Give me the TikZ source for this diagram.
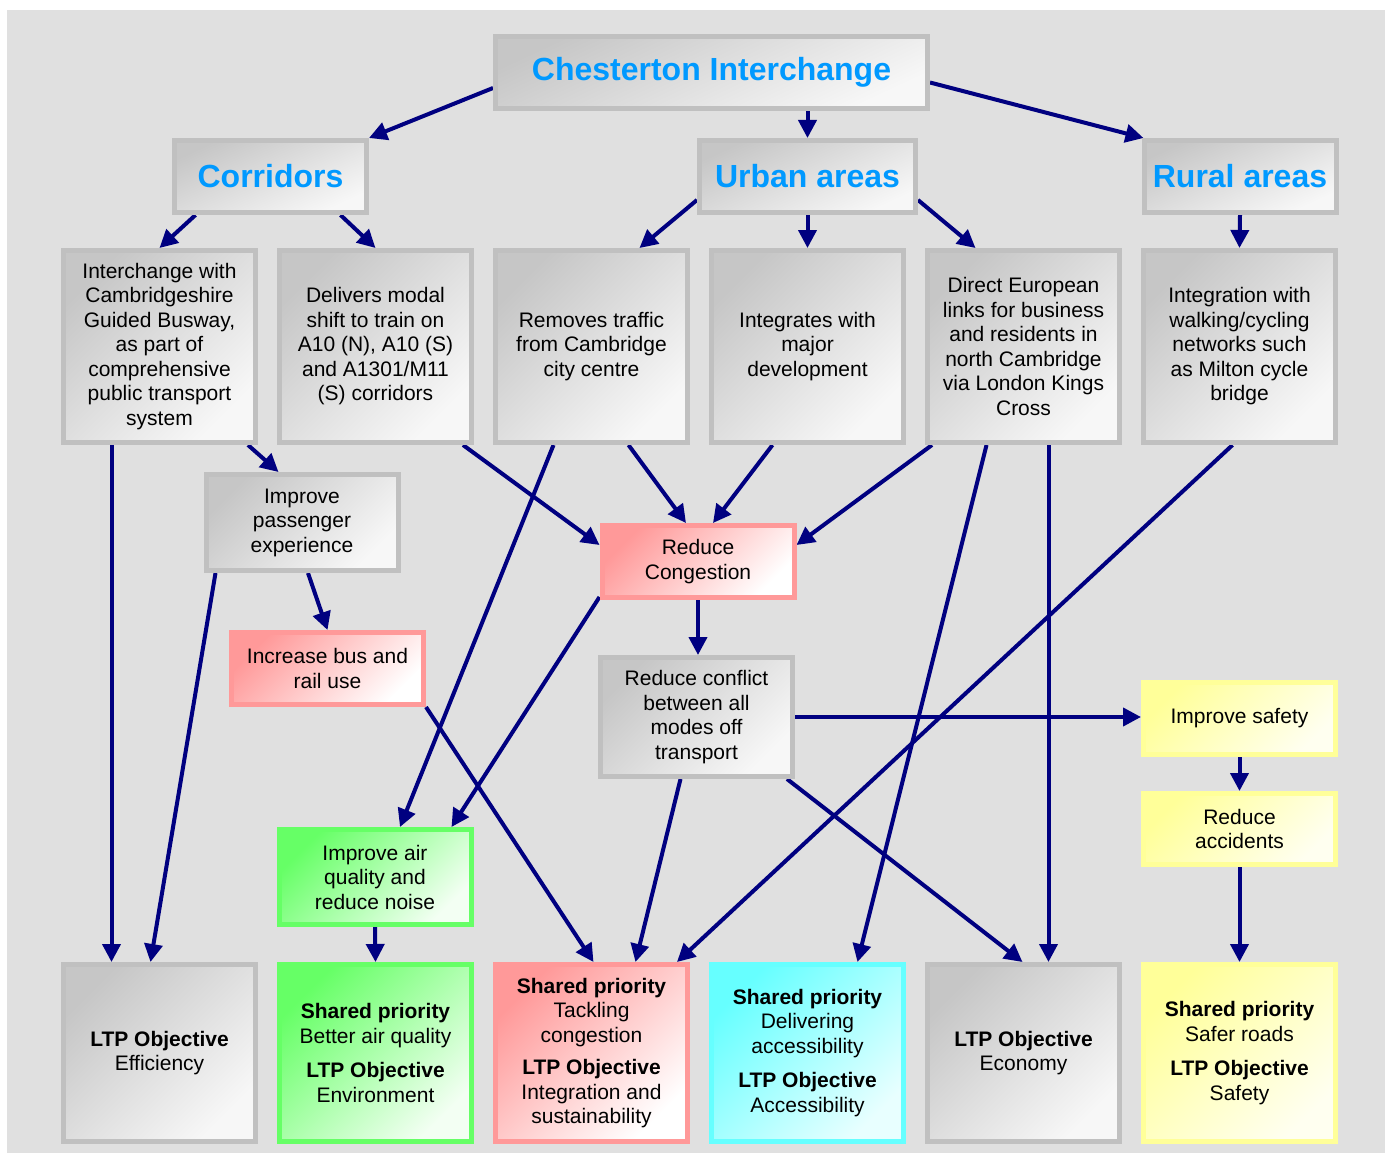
\documentclass[tikz,border=0pt]{standalone}
\usepackage{fontspec}
\setmainfont{Liberation Sans}
\usetikzlibrary{arrows.meta, positioning, backgrounds}
\definecolor{panelgrey}{HTML}{E0E0E0}
\definecolor{rimgrey}{HTML}{C0C0C0}
\definecolor{headblue}{HTML}{0099FF}
\definecolor{linknavy}{HTML}{000080}
\definecolor{rimred}{HTML}{FF9999}
\definecolor{rimgreen}{HTML}{66FF66}
\definecolor{rimcyan}{HTML}{66FFFF}
\definecolor{rimyellow}{HTML}{FFFF99}

\begin{document}
\begin{tikzpicture}[
    x=1pt, y=1pt,
    box/.style={draw, line width=5pt, minimum width=192pt, minimum height=192pt, align=center, inner sep=3pt, font=\fontsize{21}{24.5}\selectfont},
    greybox/.style={box, draw=rimgrey, top color=rimgrey!90!white, bottom color=white!97!black, shading angle=45},
    redbox/.style={box, draw=rimred, top color=rimred, bottom color=white, shading angle=45},
    greenbox/.style={box, draw=rimgreen, top color=rimgreen, bottom color=rimgreen!8!white, shading angle=45},
    cyanbox/.style={box, draw=rimcyan, top color=rimcyan, bottom color=rimcyan!15!white, shading angle=45},
    yellowbox/.style={box, draw=rimyellow, top color=rimyellow, bottom color=rimyellow!15!white, shading angle=45},
    hdr/.style={greybox, minimum height=72pt, shading angle=25, text=headblue, font=\fontsize{32}{38}\selectfont\bfseries},
    link/.style={draw=linknavy, line width=4pt, -{Triangle[length=18pt, width=18pt]}}
]
    \useasboundingbox (0,0) rectangle (1385,-1153);

    % Titel und Bereiche
    \node[hdr, minimum width=432pt] (chest) at (711.5,-72.5) {Chesterton Interchange};
    \node[hdr] (corr) at (270.5,-176.5) {Corridors};
    \node[hdr, minimum width=216pt] (urban) at (807.5,-176.5) {Urban areas};
    \node[hdr] (rural) at (1240,-176.5) {Rural areas};

    % Zweite Reihe: Wirkungen
    \node[greybox] (busway) at (159.5,-346.5) {Interchange with\\Cambridgeshire\\Guided Busway,\\as part of\\comprehensive\\public transport\\system};
    \node[greybox, right=19pt of busway] (modal) {Delivers modal\\shift to train on\\A10 (N), A10 (S)\\and A1301/M11\\(S) corridors};
    \node[greybox, right=19pt of modal] (traffic) {Removes traffic\\from Cambridge\\city centre};
    \node[greybox, right=19pt of traffic] (devel) {Integrates with\\major\\development};
    \node[greybox, right=19pt of devel] (euro) {Direct European\\links for business\\and residents in\\north Cambridge\\via London Kings\\Cross};
    \node[greybox, right=19pt of euro] (cycle) {Integration with\\walking/cycling\\networks such\\as Milton cycle\\bridge};

    % Zwischenziele
    \node[greybox, minimum height=96pt] (pass) at (302,-522.5) {Improve\\passenger\\experience};
    \node[redbox, minimum height=72pt] (busrail) at (327.5,-668.5) {Increase bus and\\rail use};
    \node[redbox, minimum height=72pt] (cong) at (698,-561.5) {Reduce\\Congestion};
    \node[greybox, minimum height=119pt] (conflict) at (696.5,-717) {Reduce conflict\\between all\\modes off\\transport};
    \node[greenbox, minimum height=95pt] (air) at (375,-877) {Improve air\\quality and\\reduce noise};
    \node[yellowbox, minimum height=72pt] (safety) at (1239.5,-718.5) {Improve safety};
    \node[yellowbox, minimum height=71pt, below=34pt of safety] (accid) {Reduce\\accidents};

    % Untere Reihe: LTP-Ziele
    \node[greybox, minimum height=177pt, below=517pt of busway] (effic) {\textbf{LTP Objective}\\Efficiency};
    \node[greenbox, minimum height=177pt, below=517pt of modal] (envir) {\textbf{Shared priority}\\Better air quality\\[10pt]\textbf{LTP Objective}\\Environment};
    \node[redbox, minimum height=177pt, below=517pt of traffic] (tackle) {\textbf{Shared priority}\\Tackling\\congestion\\[8pt]\textbf{LTP Objective}\\Integration and\\sustainability};
    \node[cyanbox, minimum height=177pt, below=517pt of devel] (access) {\textbf{Shared priority}\\Delivering\\accessibility\\[10pt]\textbf{LTP Objective}\\Accessibility};
    \node[greybox, minimum height=177pt, below=517pt of euro] (econ) {\textbf{LTP Objective}\\Economy};
    \node[yellowbox, minimum height=177pt, below=517pt of cycle] (safer) {\textbf{Shared priority}\\Safer roads\\[10pt]\textbf{LTP Objective}\\Safety};

    \begin{scope}[on background layer]
    \fill[panelgrey] (7,-10) rectangle (1385,-1153);

    % Verbindungen oben
    \draw[link] ([yshift=-15.5pt]chest.west) -- (corr.north east);
    \draw[link] (urban.north |- chest.south) -- (urban.north);
    \draw[link] ([yshift=-10pt]chest.east) -- ([xshift=2pt]rural.north west);
    \draw[link] ([xshift=-75pt]corr.south) -- (busway.north);
    \draw[link] ([xshift=70pt]corr.south) -- (modal.north);
    \draw[link] ([yshift=-23.5pt]urban.west) -- ([xshift=48pt]traffic.north);
    \draw[link] (urban.south) -- (devel.north);
    \draw[link] ([yshift=-23.5pt]urban.east) -- ([xshift=-48pt]euro.north);
    \draw[link] (rural.south) -- (cycle.north);

    % Verbindungen Mitte und unten
    \draw[link] ([xshift=-48pt]busway.south) -- ([xshift=-48pt]effic.north);
    \draw[link] ([xshift=-10pt]busway.south east) -- ([xshift=75pt]pass.north west);
    \draw[link] ([xshift=12pt]pass.south west) -- ([xshift=-9pt]effic.north);
    \draw[link] ([xshift=6pt]pass.south) -- (busrail.north);
    \draw[link] ([xshift=-11pt]modal.south east) -- ([yshift=16.5pt]cong.west);
    \draw[link] ([xshift=-38pt]traffic.south) -- ([xshift=25pt]air.north);
    \draw[link] ([xshift=37pt]traffic.south) -- ([xshift=-12pt]cong.north);
    \draw[link] ([xshift=-35pt]devel.south) -- ([xshift=15pt]cong.north);
    \draw[link] ([xshift=7pt]euro.south west) -- ([yshift=16.5pt]cong.east);
    \draw[link] ([xshift=-37pt]euro.south) -- ([xshift=50pt]access.north);
    \draw[link] ([xshift=25pt]euro.south) -- ([xshift=25pt]econ.north);
    \draw[link] ([xshift=-7pt]cycle.south) -- ([xshift=-13pt]tackle.north east);
    \draw[link] ([yshift=3pt]cong.south west) -- ([xshift=-22pt]air.north east);
    \draw[link] (cong.south) -- (cong.south |- conflict.north);
    \draw[link] (busrail.south east) -- ([xshift=2pt]tackle.north);
    \draw[link] (conflict.east) -- (conflict.east -| safety.west);
    \draw[link] ([xshift=-16pt]conflict.south) -- ([xshift=44pt]tackle.north);
    \draw[link] ([xshift=-8pt]conflict.south east) -- ([xshift=-1pt]econ.north);
    \draw[link] (air.south) -- (envir.north);
    \draw[link] (safety.south) -- (accid.north);
    \draw[link] (accid.south) -- (safer.north);
    \end{scope}
\end{tikzpicture}
\end{document}
